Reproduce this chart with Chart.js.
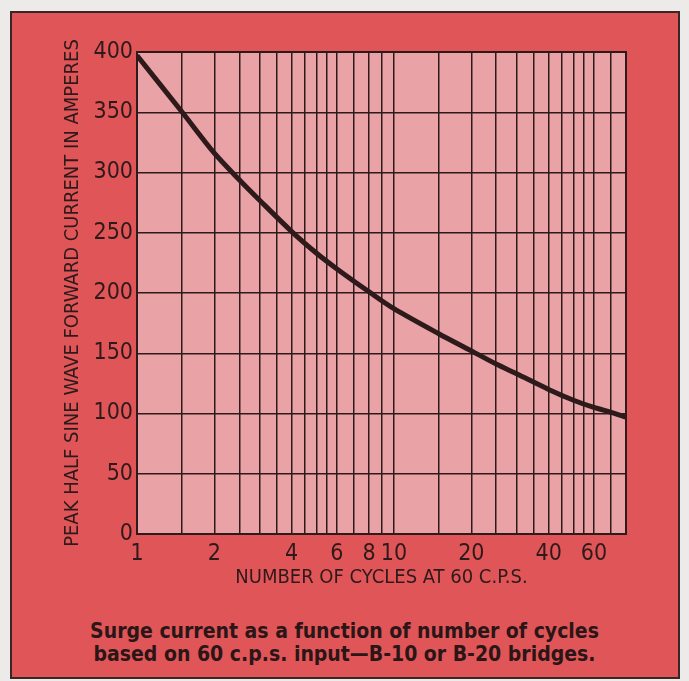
<!DOCTYPE html>
<html>
<head>
<meta charset="utf-8">
<script src="https://cdn.jsdelivr.net/npm/chart.js@4.4.1/dist/chart.umd.min.js"></script>
<style>
  html, body { margin: 0; padding: 0; background: #ecebea; }
  #panel {
    position: absolute; left: 10px; top: 11px;
    width: 666px; height: 664px;
    background: #e05558;
    border: 2px solid #3a2626;
  }
  #surge { position: absolute; left: 0; top: 0; }
  #caption {
    position: absolute; left: 0; top: 620px; width: 689px;
    text-align: center;
    font-family: "Liberation Sans Narrow", "DejaVu Sans Condensed", sans-serif;
    font-weight: bold; font-size: 21px; line-height: 23px;
    color: #2a1616;
  }
</style>
</head>
<body>
<div id="panel"></div>
<canvas id="surge" width="689" height="600"></canvas>
<div id="caption">Surge current as a function of number of cycles<br>based on 60 c.p.s. input—B-10 or B-20 bridges.</div>

<script>
// number of cycles (60 c.p.s.) vs. peak half-sine surge current
const cycles  = [1, 1.5, 2, 2.5, 3, 4, 5, 6, 8, 10, 15, 20, 25, 30, 40, 50, 60, 70, 80];
const amperes = [397, 350, 316, 294, 277, 251, 233, 220, 201, 187, 166, 152, 141, 133, 120, 111, 105, 101, 97];

// log-paper rulings and the ones that carry a number
const xGrid   = [1, 1.5, 2, 2.5, 3, 3.5, 4, 4.5, 5, 5.5, 6, 7, 8, 9, 10,
                 15, 20, 25, 30, 35, 40, 45, 50, 55, 60, 70, 80];
const xLabels = [1, 2, 4, 6, 8, 10, 20, 40, 60];
const yTicks  = [0, 50, 100, 150, 200, 250, 300, 350, 400];

const INK = '#2e1a1b';
const narrow = '"Liberation Sans Narrow", "DejaVu Sans Condensed", sans-serif';

// pink graph paper behind the plot, dark frame on top
const paper = {
    id: 'paper',
    beforeDraw(chart) {
        const { ctx, chartArea: a } = chart;
        ctx.save();
        ctx.fillStyle = '#e9a3a6';
        ctx.fillRect(a.left, a.top, a.right - a.left, a.bottom - a.top);
        ctx.restore();
    },
    afterDatasetsDraw(chart) {
        const { ctx, chartArea: a } = chart;
        ctx.save();
        ctx.strokeStyle = INK;
        ctx.lineWidth = 2;
        ctx.strokeRect(a.left, a.top, a.right - a.left, a.bottom - a.top);
        ctx.restore();
    }
};

new Chart(document.getElementById('surge'), {
    type: 'line',
    data: {
        datasets: [{
            data: cycles.map((c, i) => ({ x: c, y: amperes[i] })),
            borderColor: INK,
            borderWidth: 5,
            pointRadius: 0,
            tension: 0.3,
            fill: false
        }]
    },
    options: {
        responsive: false,
        animation: false,
        layout: { padding: { left: 61, top: 52, right: 63, bottom: 10 } },
        plugins: { legend: { display: false }, tooltip: { enabled: false } },
        scales: {
            x: {
                type: 'logarithmic',
                min: 1,
                max: 80,
                afterBuildTicks(scale) {
                    scale.ticks = xGrid.map(v => ({ value: v }));
                },
                afterFit(scale) { scale.height = 56; },
                ticks: {
                    autoSkip: false,
                    maxRotation: 0,
                    padding: 6,
                    color: INK,
                    font: { family: narrow, size: 23 },
                    callback: v => xLabels.includes(v) ? String(v) : ''
                },
                grid: { color: INK, lineWidth: 1.5, drawTicks: false },
                border: { display: false },
                title: {
                    display: true,
                    text: 'NUMBER OF CYCLES AT 60 C.P.S.',
                    color: INK,
                    font: { family: narrow, size: 20 },
                    padding: 0
                }
            },
            y: {
                min: 0,
                max: 400,
                afterBuildTicks(scale) {
                    scale.ticks = yTicks.map(v => ({ value: v }));
                },
                afterFit(scale) { scale.width = 76; },
                ticks: {
                    padding: 4,
                    color: INK,
                    font: { family: narrow, size: 23 }
                },
                grid: { color: INK, lineWidth: 1.5, drawTicks: false },
                border: { display: false },
                title: {
                    display: true,
                    text: 'PEAK HALF SINE WAVE FORWARD CURRENT IN AMPERES',
                    color: INK,
                    font: { family: narrow, size: 20 },
                    padding: 0
                }
            }
        }
    },
    plugins: [paper]
});
</script>
</body>
</html>
